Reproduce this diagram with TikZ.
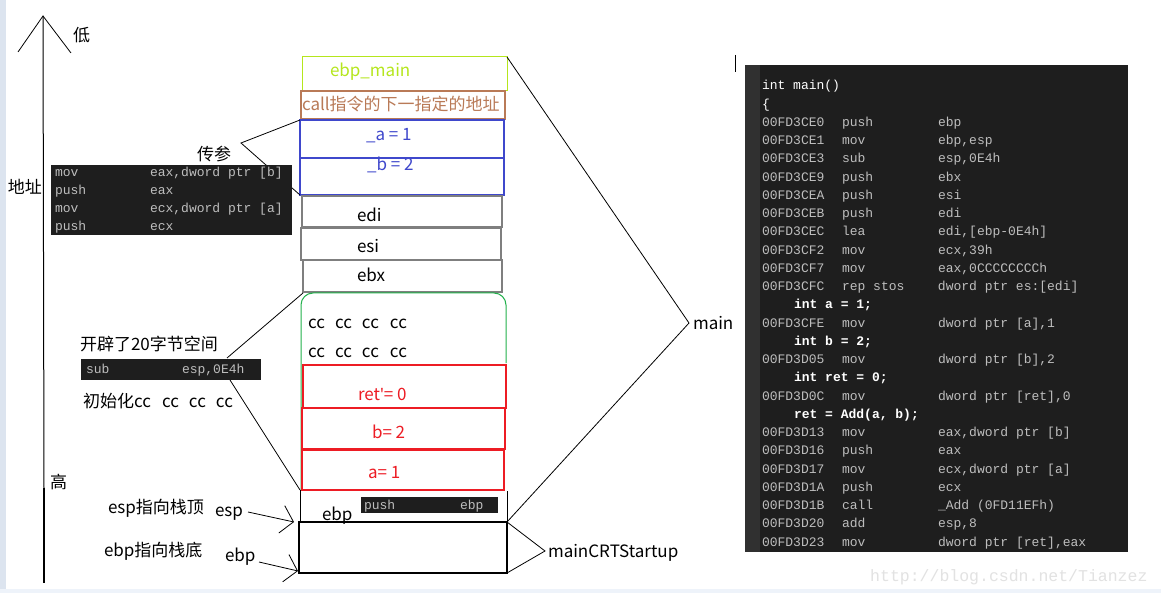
\documentclass[tikz,border=0pt]{standalone}
\usepackage{fontspec}
\setmainfont{Noto Sans CJK SC}
\newfontfamily\codefont{Liberation Mono}
\newfontfamily\latinf{Noto Sans}
\usetikzlibrary{arrows.meta}
\definecolor{codebg}{HTML}{1E1E1E}
\definecolor{codestrip}{HTML}{303030}
\definecolor{codegray}{HTML}{BEBEBE}
\definecolor{limec}{HTML}{B5E61D}
\definecolor{brownc}{HTML}{B97A57}
\definecolor{bluec}{HTML}{3F48CC}
\definecolor{grayc}{HTML}{7F7F7F}
\definecolor{greenc}{HTML}{22B14C}
\definecolor{redc}{HTML}{ED1C24}
\definecolor{sidestrip}{HTML}{DCE4EF}
\definecolor{botstrip}{HTML}{EEF3FA}
\definecolor{wmark}{HTML}{E2E2E2}
\tikzset{
  box/.style={draw, inner sep=0pt, outer sep=0pt, anchor=north west},
  lbl/.style={anchor=base west, inner sep=0pt, outer sep=0pt, font=\fontsize{17}{20}\selectfont},
  code/.style={anchor=base west, inner sep=0pt, outer sep=0pt, text=codegray, font=\codefont\fontsize{13}{15}\selectfont},
  src/.style={code, text=white},
  srcb/.style={code, text=white, font=\codefont\bfseries\fontsize{13}{15}\selectfont},
  darkbg/.style={fill=codebg, draw=none, inner sep=0pt, outer sep=0pt, anchor=north west},
  conn/.style={draw=black, line width=0.8pt},
  barb/.style={conn, -{Straight Barb[length=12pt,width=28pt,line width=0.8pt]}}
}
\newcommand\asmline[5]{\node[code] (#1) at (762,#2) {\makebox[80pt][l]{#3}\makebox[96pt][l]{#4}#5};}
\begin{document}
\begin{tikzpicture}[x=1pt,y=-1pt]
\useasboundingbox (0,0) rectangle (1161,593);
\fill[white] (0,0) rectangle (1161,593);
\fill[sidestrip] (0,0) rectangle (6,589);
\fill[botstrip] (0,589) rectangle (1161,593);

% axis
\coordinate (axtop) at (43,16);
\coordinate (axmid) at (44,488);
\coordinate (axbot) at (44,583);
\draw[line width=1pt] (axtop) -- (axmid);
\draw[line width=2.6pt] (axmid) -- (axbot);
\draw[line width=0.8pt] (18,52) -- (axtop) -- (71,53);
\node[lbl] (low) at (73,42) {低};
\node[lbl] (addr) at (8,194) {地址};
\node[lbl] (high) at (50,488) {高};

% stack boxes
\node[box, draw=limec, line width=1pt, minimum width=205pt, minimum height=34pt] (ebpmain) at (302,57) {};
\node[lbl, text=limec] (ebpmaint) at (330,77) {ebp\_main};
\node[box, draw=brownc, line width=2pt, minimum width=204pt, minimum height=28pt] (callbox) at (301,91) {};
\node[lbl, text=brownc] (callt) at (302,111) {call指令的下一指定的地址};
\node[box, draw=bluec, line width=2pt, minimum width=204pt, minimum height=38pt] (abox) at (300,120) {};
\node[lbl, text=bluec] (at) at (366,141) {\_a = 1};
\node[box, draw=bluec, line width=2pt, minimum width=204pt, minimum height=37pt] (bbox) at (300,158) {};
\node[lbl, text=bluec] (bt) at (367,171) {\_b = 2};
\node[box, draw=grayc, line width=1.2pt, minimum width=200pt, minimum height=31pt] (edibox) at (302,196) {};
\node[lbl] (edit) at (357,222) {edi};
\node[box, draw=grayc, line width=1.2pt, minimum width=200pt, minimum height=32pt] (esibox) at (301,228) {};
\node[lbl] (esit) at (357,253) {esi};
\node[box, draw=grayc, line width=1.2pt, minimum width=199pt, minimum height=32pt] (ebxbox) at (303,260) {};
\node[lbl] (ebxt) at (357,282) {ebx};

% green region
\draw[greenc, line width=1pt, rounded corners=12pt] (301,490) -- (301,293) -- (506,293) -- (506,363);
\coordinate (greentl) at (303,293);
\node[lbl] (cc1) at (308,328) {\makebox[27pt][l]{cc}\makebox[27pt][l]{cc}\makebox[28pt][l]{cc}cc};
\node[lbl] (cc2) at (308,357) {\makebox[27pt][l]{cc}\makebox[27pt][l]{cc}\makebox[28pt][l]{cc}cc};

% red boxes
\node[box, draw=redc, line width=1.2pt, minimum width=203pt, minimum height=43pt] (retbox) at (303,365) {};
\node[lbl, text=redc] (rett) at (358,400) {ret{\latinf'}= 0};
\node[box, draw=redc, line width=1.2pt, minimum width=203pt, minimum height=41pt] (b2box) at (302,408) {};
\node[lbl, text=redc] (b2t) at (372,438) {b= 2};
\node[box, draw=redc, line width=1.6pt, minimum width=202pt, minimum height=40pt] (a2box) at (302,450) {};
\node[lbl, text=redc] (a2t) at (368,478) {a= 1};

% ebp region
\draw[line width=0.8pt] (300,490) -- (300,522);
\draw[line width=0.8pt] (507,491) -- (507,522);
\node[lbl] (ebpin) at (322,520) {ebp};
\node[darkbg, minimum width=137pt, minimum height=16pt] (pushblk) at (361,497) {};
\node[code] (pusht) at (364,509) {\makebox[96pt][l]{push}ebp};

% black box
\node[box, draw=black, line width=2pt, minimum width=208pt, minimum height=51pt] (blackbox) at (299,522) {};

% left annotations
\node[lbl] (chuancan) at (197,161) {传参};
\coordinate (cctip) at (241,143);
\draw[conn] (abox.north west) -- (cctip) -- (bbox.south west);
\node[darkbg, minimum width=241pt, minimum height=70pt] (blk1) at (51,165) {};
\node[code] (b1l1) at (55,177) {\makebox[95pt][l]{mov}eax,dword ptr [b]};
\node[code] (b1l2) at (55,195) {\makebox[95pt][l]{push}eax};
\node[code] (b1l3) at (55,213) {\makebox[95pt][l]{mov}ecx,dword ptr [a]};
\node[code] (b1l4) at (55,231) {\makebox[95pt][l]{push}ecx};

\node[lbl] (kaipi) at (80,350) {开辟了20字节空间};
\node[darkbg, minimum width=180pt, minimum height=21pt] (blk2) at (81,359) {};
\node[code] (b2l1) at (86,373) {\makebox[96pt][l]{sub}esp,0E4h};
\node[lbl] (init) at (83,407) {初始化\makebox[28pt][l]{cc}\makebox[27pt][l]{cc}\makebox[27pt][l]{cc}cc};
\coordinate (kp1) at (227,358);
\coordinate (kp2) at (230,380);
\draw[conn] (kp1) -- (greentl);
\draw[conn] (kp2) -- (300,490);

\node[lbl] (esptop) at (108,513) {esp指向栈顶};
\node[lbl] (espl) at (215,516) {esp};
\coordinate (esptip) at (294,522);
\draw[barb] (248,512) -- (esptip);
\node[lbl] (ebpbot) at (104,556) {ebp指向栈底};
\node[lbl] (ebpl) at (225,561) {ebp};
\coordinate (ebptip) at (298,571);
\draw[barb] (259,562) -- (ebptip);

% right brackets
\coordinate (maintip) at (689,323);
\node[lbl] (mainl) at (693,330) {main};
\draw[conn] (ebpmain.north east) -- (maintip) -- (blackbox.north east);
\coordinate (crttip) at (545,551);
\node[lbl] (crtl) at (548,557) {mainCRTStartup};
\draw[conn] (blackbox.north east) -- (crttip) -- (blackbox.south east);

% stray mark
\draw[line width=1pt] (735,55) -- (735,72);

% code panel
\node[darkbg, minimum width=383pt, minimum height=487pt] (panel) at (745,65) {};
\node[darkbg, fill=codestrip, minimum width=15pt, minimum height=487pt] (pstrip) at (745,65) {};
\node[src] (l1) at (762,90) {int main()};
\node[src] (l2) at (762,108.24) {\{};
\asmline{l3}{126.48}{00FD3CE0}{push}{ebp}
\asmline{l4}{144.72}{00FD3CE1}{mov}{ebp,esp}
\asmline{l5}{162.96}{00FD3CE3}{sub}{esp,0E4h}
\asmline{l6}{181.2}{00FD3CE9}{push}{ebx}
\asmline{l7}{199.44}{00FD3CEA}{push}{esi}
\asmline{l8}{217.68}{00FD3CEB}{push}{edi}
\asmline{l9}{235.92}{00FD3CEC}{lea}{edi,[ebp-0E4h]}
\asmline{l10}{254.16}{00FD3CF2}{mov}{ecx,39h}
\asmline{l11}{272.4}{00FD3CF7}{mov}{eax,0CCCCCCCCh}
\asmline{l12}{290.64}{00FD3CFC}{rep stos}{dword ptr es:[edi]}
\node[srcb] (l13) at (794,308.88) {int a = 1;};
\asmline{l14}{327.12}{00FD3CFE}{mov}{dword ptr [a],1}
\node[srcb] (l15) at (794,345.36) {int b = 2;};
\asmline{l16}{363.6}{00FD3D05}{mov}{dword ptr [b],2}
\node[srcb] (l17) at (794,381.84) {int ret = 0;};
\asmline{l18}{400.08}{00FD3D0C}{mov}{dword ptr [ret],0}
\node[srcb] (l19) at (794,418.32) {ret = Add(a, b);};
\asmline{l20}{436.56}{00FD3D13}{mov}{eax,dword ptr [b]}
\asmline{l21}{454.8}{00FD3D16}{push}{eax}
\asmline{l22}{473.04}{00FD3D17}{mov}{ecx,dword ptr [a]}
\asmline{l23}{491.28}{00FD3D1A}{push}{ecx}
\asmline{l24}{509.52}{00FD3D1B}{call}{\_Add (0FD11EFh)}
\asmline{l25}{527.76}{00FD3D20}{add}{esp,8}
\asmline{l26}{546}{00FD3D23}{mov}{dword ptr [ret],eax}

% watermark
\node[anchor=base west, inner sep=0pt, text=wmark, font=\codefont\fontsize{16.5}{18}\selectfont] (wm) at (870,581) {http://blog.csdn.net/Tianzez};
\end{tikzpicture}
\end{document}
